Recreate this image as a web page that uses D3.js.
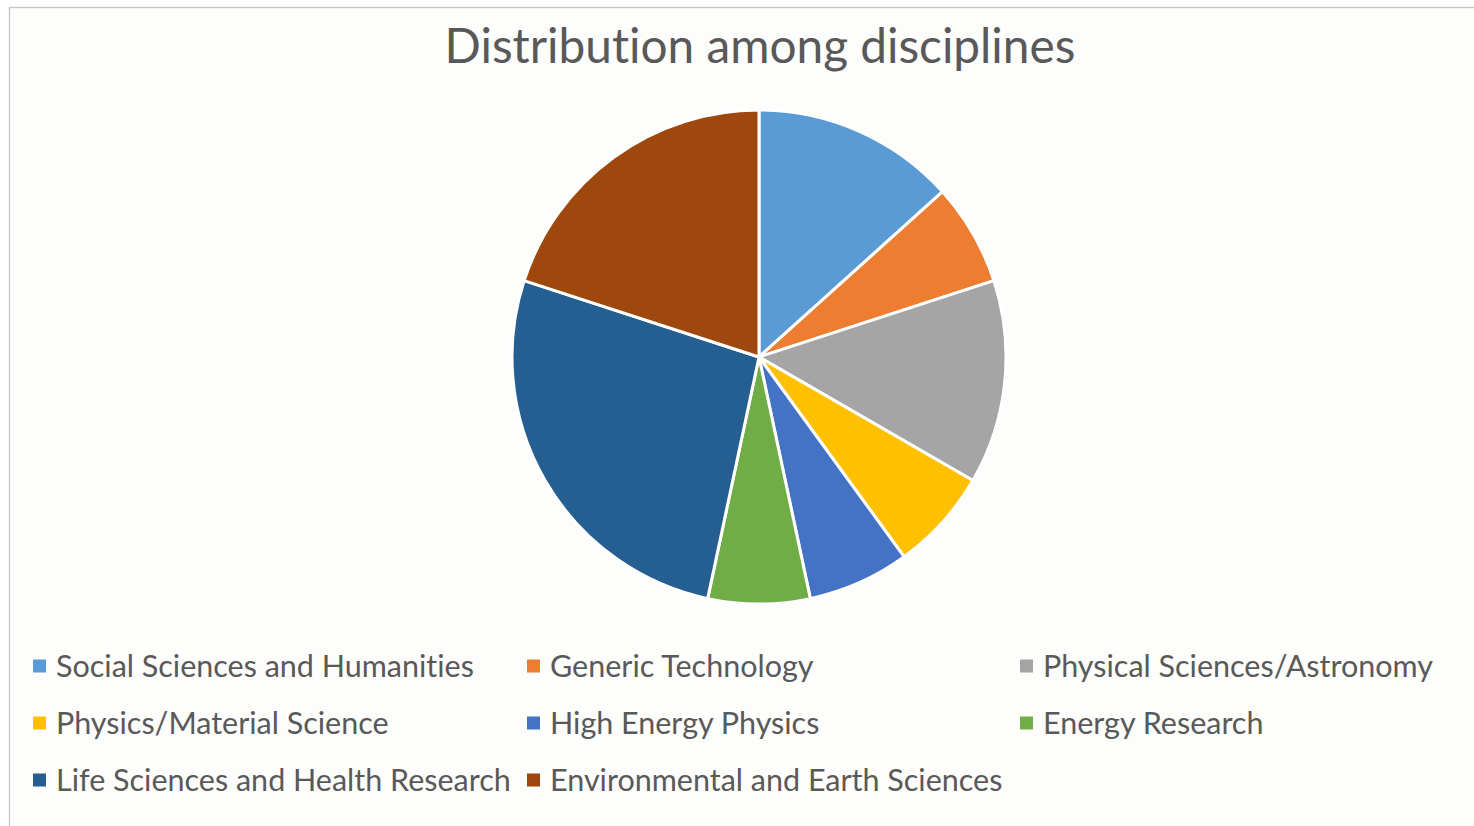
<!DOCTYPE html>
<html>
<head>
<meta charset="utf-8">
<script src="https://cdn.jsdelivr.net/npm/d3@7"></script>
<style>
  html, body { margin: 0; padding: 0; background: #ffffff; }
  svg { display: block; }
  text { font-family: Lato, "Open Sans", sans-serif; fill: #595959; font-variant-ligatures: none; font-feature-settings: "liga" 0; }
</style>
</head>
<body>
<svg id="chart" width="1474" height="826"></svg>
<script>
// Disciplines and their counts
const categories = [
  "Social Sciences and Humanities",
  "Generic Technology",
  "Physical Sciences/Astronomy",
  "Physics/Material Science",
  "High Energy Physics",
  "Energy Research",
  "Life Sciences and Health Research",
  "Environmental and Earth Sciences"
];
const values = [2, 1, 2, 1, 1, 1, 4, 3];
const colors = ["#5B9BD5", "#ED7D31", "#A5A5A5", "#FFC000", "#4472C4", "#70AD47", "#255E91", "#9E480E"];
const title = "Distribution among disciplines";

const W = 1474, H = 826;
const svg = d3.select("#chart");

// chart area frame
svg.append("rect")
  .attr("x", 9.5).attr("y", 7.5)
  .attr("width", W).attr("height", H)
  .attr("fill", "#fdfdfb")
  .attr("stroke", "#c6c6c6").attr("stroke-width", 1.3);

// title
const t = svg.append("text")
  .attr("x", 760).attr("y", 63)
  .attr("text-anchor", "middle")
  .style("font-size", "44px")
  .text(title);
// scale to the intended width
const tw = t.node().getComputedTextLength();
t.style("font-size", (44 * 631 / tw) + "px");

// pie
const cx = 759, cy = 357, r = 247;
const pie = d3.pie().sort(null).value(d => d.v);
const arc = d3.arc().innerRadius(0).outerRadius(r);
const data = categories.map((c, i) => ({ c, v: values[i] }));
const color = d3.scaleOrdinal().domain(categories).range(colors);

svg.append("g")
  .attr("transform", `translate(${cx},${cy})`)
  .selectAll("path")
  .data(pie(data))
  .join("path")
  .attr("d", arc)
  .attr("fill", d => color(d.data.c))
  .attr("stroke", "#ffffff")
  .attr("stroke-width", 3)
  .attr("stroke-linejoin", "round");

// legend: 3 columns, rows of 3
const colX = [33, 527, 1020];
const rowY = [666, 723, 780];
const legend = svg.append("g");
const items = legend.selectAll("g")
  .data(categories)
  .join("g")
  .attr("transform", (d, i) => `translate(${colX[i % 3]},${rowY[Math.floor(i / 3)]})`);
items.append("rect")
  .attr("x", 0).attr("y", -6.5)
  .attr("width", 13).attr("height", 13)
  .attr("fill", d => color(d));
const labels = items.append("text")
  .attr("x", 23).attr("y", 0)
  .attr("dy", "0.35em")
  .style("font-size", "27px")
  .text(d => d);
// size legend text so the first label spans its intended width
const lw = labels.nodes()[0].getComputedTextLength();
labels.style("font-size", (27 * 418 / lw) + "px");
</script>
</body>
</html>
